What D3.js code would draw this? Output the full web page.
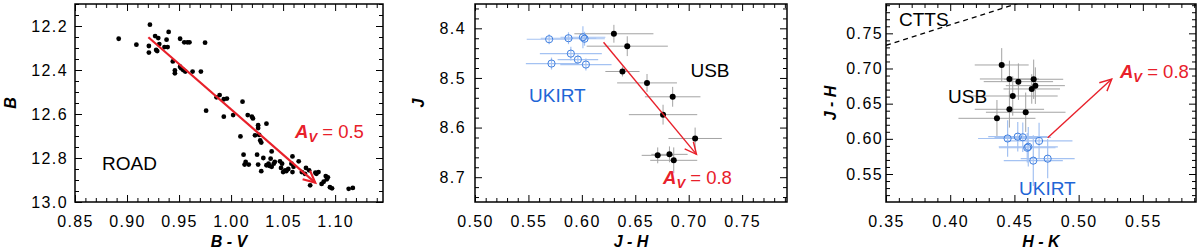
<!DOCTYPE html>
<html><head><meta charset="utf-8">
<script src="https://cdn.jsdelivr.net/npm/d3@7"></script>
<style>
body{margin:0;background:#fff}
svg{display:block}
text{font-family:"Liberation Sans",Arial,Helvetica,sans-serif}
</style>
</head><body>
<svg id="c" width="1200" height="250"></svg>
<script>
// ---------- Panel 1 : ROAD photometry (B vs B-V) ----------
const roadBV = [0.892,0.909,0.922,0.921,0.921,0.927,0.930,0.931,0.928,0.929,0.936,0.939,0.938,0.940,0.951,0.955,0.958,0.960,0.975,0.944,0.951,0.952,0.954,0.956,0.946,0.946,0.963,0.971,0.976,0.989,0.986,0.993,0.996,0.993,
1.002,1.011,1.016,1.020,1.021,1.026,1.026,1.034,1.009,1.023,1.028,1.029,1.039,1.012,1.014,1.017,1.013,1.025,1.026,1.029,1.031,1.034,1.036,1.037,1.039,1.041,1.042,1.038,1.047,1.049,1.048,1.050,1.052,1.053,1.055,1.059,1.058,1.060,1.059,1.065,1.068,1.071,1.072,1.075,1.076,1.081,1.082,1.084,1.087,1.089,1.091,1.093,1.092,1.095,1.097,1.113,1.117,1.027];
const roadB = [12.258,12.285,12.194,12.291,12.321,12.246,12.255,12.282,12.309,12.314,12.296,12.296,12.262,12.227,12.258,12.274,12.274,12.274,12.276,12.361,12.385,12.392,12.400,12.407,12.402,12.415,12.407,12.407,12.585,12.514,12.524,12.533,12.530,12.612,
12.605,12.544,12.605,12.612,12.620,12.651,12.664,12.644,12.702,12.697,12.720,12.730,12.770,12.785,12.818,12.830,12.830,12.785,12.830,12.860,12.800,12.833,12.826,12.836,12.840,12.826,12.818,12.803,12.815,12.826,12.845,12.864,12.856,12.860,12.850,12.793,12.826,12.840,12.864,12.815,12.864,12.872,12.845,12.856,12.924,12.867,12.872,12.864,12.918,12.908,12.882,12.888,12.897,12.933,12.938,12.940,12.936,12.695];
const p1XTicks = [0.85,0.90,0.95,1.00,1.05,1.10];
const p1YTicks = [12.2,12.4,12.6,12.8,13.0];
const p1Arrow = [[0.9205,12.251],[1.0808,12.912]];

// ---------- Panel 2 : J vs J-H ----------
const usbJH = [0.630,0.6425,0.638,0.661,0.685,0.676,0.706,0.671,0.682,0.686];
const usbJ = [8.411,8.436,8.487,8.510,8.538,8.574,8.622,8.656,8.654,8.666];
const usbJHerr = [0.037,0.038,0.016,0.028,0.026,0.032,0.025,0.015,0.017,0.022];
const usbJerr = [0.018,0.020,0.010,0.018,0.020,0.020,0.022,0.016,0.016,0.026];
const ukJH = [0.5694,0.5875,0.6010,0.6025,0.5897,0.5963,0.5716,0.6038];
const ukJ = [8.422,8.420,8.418,8.421,8.451,8.463,8.471,8.473];
const ukJHerr = [0.021,0.026,0.021,0.019,0.029,0.019,0.024,0.024];
const ukJerr = [0.010,0.012,0.022,0.014,0.014,0.010,0.012,0.012];
const p2XTicks = [0.50,0.55,0.60,0.65,0.70,0.75];
const p2YTicks = [8.4,8.5,8.6,8.7];
const p2Arrow = [[0.6203,8.428],[0.7073,8.654]];

// ---------- Panel 3 : J-H vs H-K ----------
const usbHK = [0.4401,0.4461,0.4531,0.4650,0.4663,0.4635,0.4487,0.4461,0.4588,0.4364];
const usbJH3 = [0.7050,0.6851,0.6813,0.6847,0.6756,0.6709,0.6609,0.6420,0.6378,0.6292];
const usbHKerr = [0.021,0.023,0.027,0.023,0.023,0.022,0.035,0.027,0.031,0.030];
const usbJH3err = [0.024,0.026,0.026,0.028,0.026,0.021,0.028,0.026,0.028,0.026];
const ukHK = [0.4447,0.4526,0.4565,0.4692,0.4608,0.4600,0.4647,0.4759];
const ukJH3 = [0.6005,0.6031,0.6022,0.5970,0.5887,0.5873,0.5690,0.5718];
const ukHKerr = [0.023,0.023,0.022,0.026,0.023,0.022,0.023,0.021];
const ukJH3err = [0.026,0.021,0.021,0.026,0.028,0.021,0.036,0.028];
const p3XTicks = [0.35,0.40,0.45,0.50,0.55];
const p3YTicks = [0.55,0.60,0.65,0.70,0.75];
const p3Arrow = [[0.4759,0.6016],[0.5258,0.6850]];
const cttsLine = [[0.35,0.733],[0.47,0.8026]];

// ---------- style ----------
const RED = "#e8202a", BLUE = "#1f66d6", BLUE_PT = "#3f7fe0", BLUE_ERR = "#a4c2f2", GRAY_ERR = "#a3a3a3";
const svg = d3.select("#c");

function range(a, b, step) { const out = []; for (let v = a; v <= b + 1e-9; v += step) out.push(+v.toFixed(4)); return out; }

function makePanel(o) {
  const x = d3.scaleLinear().domain(o.xDomain).range([o.left, o.right]);
  const y = d3.scaleLinear().domain(o.yDomain).range([o.bottom, o.top]);
  const g = svg.append("g");
  const clipId = "clip" + o.id;
  g.append("clipPath").attr("id", clipId).append("rect")
    .attr("x", o.left).attr("y", o.top).attr("width", o.right - o.left).attr("height", o.bottom - o.top);
  const xMinor = range(o.xDomain[0], o.xDomain[1], o.xMinor).filter(v => !o.xTicks.some(t => Math.abs(t - v) < 1e-6));
  const yLo = Math.min(...o.yDomain), yHi = Math.max(...o.yDomain);
  const yMinor = range(Math.ceil(yLo / o.yMinor - 1e-6) * o.yMinor, yHi, o.yMinor).filter(v => !o.yTicks.some(t => Math.abs(t - v) < 1e-6));
  const clean = s => s.select(".domain").remove();
  // bottom
  g.append("g").attr("transform", `translate(0,${o.bottom})`)
    .call(d3.axisBottom(x).tickValues(o.xTicks).tickSize(-7).tickPadding(14).tickFormat(d3.format(o.xFmt))).call(clean);
  g.append("g").attr("transform", `translate(0,${o.bottom})`)
    .call(d3.axisBottom(x).tickValues(xMinor).tickSize(-4).tickFormat("")).call(clean);
  // top
  g.append("g").attr("transform", `translate(0,${o.top})`)
    .call(d3.axisTop(x).tickValues(o.xTicks).tickSize(-7).tickFormat("")).call(clean);
  g.append("g").attr("transform", `translate(0,${o.top})`)
    .call(d3.axisTop(x).tickValues(xMinor).tickSize(-4).tickFormat("")).call(clean);
  // left
  g.append("g").attr("transform", `translate(${o.left},0)`)
    .call(d3.axisLeft(y).tickValues(o.yTicks).tickSize(-7).tickPadding(o.yPad).tickFormat(d3.format(o.yFmt))).call(clean);
  g.append("g").attr("transform", `translate(${o.left},0)`)
    .call(d3.axisLeft(y).tickValues(yMinor).tickSize(-4).tickFormat("")).call(clean);
  // right
  g.append("g").attr("transform", `translate(${o.right},0)`)
    .call(d3.axisRight(y).tickValues(o.yTicks).tickSize(-7).tickFormat("")).call(clean);
  g.append("g").attr("transform", `translate(${o.right},0)`)
    .call(d3.axisRight(y).tickValues(yMinor).tickSize(-4).tickFormat("")).call(clean);
  g.selectAll(".tick line").attr("stroke", "#000").attr("stroke-width", 1);
  g.selectAll(".tick text").attr("fill", "#000").style("font-size", "16px").style("letter-spacing", "1.4px")
    .style("font-family", '"Liberation Sans",Arial,sans-serif');
  // frame
  g.append("rect").attr("x", o.left).attr("y", o.top).attr("width", o.right - o.left).attr("height", o.bottom - o.top)
    .attr("fill", "none").attr("stroke", "#000").attr("stroke-width", 1.5);
  // axis titles
  g.append("text").attr("x", (o.left + o.right) / 2).attr("y", 247).attr("text-anchor", "middle")
    .style("font-size", "16px").style("font-weight", "bold").style("font-style", "italic").text(o.xTitle);
  g.append("text").attr("transform", `translate(${o.yTitleX},${(o.top + o.bottom) / 2}) rotate(-90)`).attr("text-anchor", "middle")
    .style("font-size", "16px").style("font-weight", "bold").style("font-style", "italic").text(o.yTitle);
  return { x, y, g, clip: `url(#${clipId})` };
}

function label(g, px, py, txt, color) {
  g.append("text").attr("x", px).attr("y", py).attr("fill", color).style("font-size", "19px").text(txt);
}
function avLabel(g, px, py, val) {
  const t = g.append("text").attr("x", px).attr("y", py).attr("fill", RED).style("font-size", "18.5px");
  t.append("tspan").style("font-weight", "bold").style("font-style", "italic").text("A");
  t.append("tspan").attr("dy", 4).style("font-size", "13px").style("font-weight", "bold").style("font-style", "italic").text("V");
  t.append("tspan").attr("dy", -4).text("\u00a0= " + val);
}
function arrow(g, P, x, y, w, head) {
  const x1 = x(P[0][0]), y1 = y(P[0][1]), x2 = x(P[1][0]), y2 = y(P[1][1]);
  g.append("line").attr("x1", x1).attr("y1", y1).attr("x2", x2).attr("y2", y2).attr("stroke", RED).attr("stroke-width", w);
  const a = Math.atan2(y2 - y1, x2 - x1), s = 0.45;
  const path = d3.path();
  path.moveTo(x2 - head * Math.cos(a - s), y2 - head * Math.sin(a - s));
  path.lineTo(x2, y2);
  path.lineTo(x2 - head * Math.cos(a + s), y2 - head * Math.sin(a + s));
  g.append("path").attr("d", path.toString()).attr("fill", "none").attr("stroke", RED).attr("stroke-width", w).attr("stroke-linejoin", "miter");
}
function errBars(g, xs, ys, xe, ye, x, y, color, w) {
  const idx = d3.range(xs.length);
  g.append("g").selectAll("line").data(idx).join("line")
    .attr("x1", i => x(xs[i] - xe[i])).attr("x2", i => x(xs[i] + xe[i])).attr("y1", i => y(ys[i])).attr("y2", i => y(ys[i]))
    .attr("stroke", color).attr("stroke-width", w);
  g.append("g").selectAll("line").data(idx).join("line")
    .attr("x1", i => x(xs[i])).attr("x2", i => x(xs[i])).attr("y1", i => y(ys[i] - ye[i])).attr("y2", i => y(ys[i] + ye[i]))
    .attr("stroke", color).attr("stroke-width", w);
}
function dots(g, xs, ys, x, y, r) {
  g.append("g").selectAll("circle").data(d3.range(xs.length)).join("circle")
    .attr("cx", i => x(xs[i])).attr("cy", i => y(ys[i])).attr("r", r).attr("fill", "#000");
}
function rings(g, xs, ys, x, y, r) {
  g.append("g").selectAll("circle").data(d3.range(xs.length)).join("circle")
    .attr("cx", i => x(xs[i])).attr("cy", i => y(ys[i])).attr("r", r).attr("fill", "none").attr("stroke", BLUE_PT).attr("stroke-width", 1);
}

// ---- Panel 1 ----
const P1 = makePanel({ id: 1, left: 75, right: 383, top: 4, bottom: 202, xDomain: [0.85, 1.146], yDomain: [13.0, 12.1],
  xTicks: p1XTicks, yTicks: p1YTicks, xMinor: 0.01, yMinor: 0.05, xFmt: ".2f", yFmt: ".1f", yPad: 7,
  xTitle: "B - V", yTitle: "B", yTitleX: 16 });
dots(P1.g, roadBV, roadB, P1.x, P1.y, 2.4);
arrow(P1.g, p1Arrow, P1.x, P1.y, 2.2, 13);
label(P1.g, P1.x(0.876), P1.y(12.855), "ROAD", "#000");
avLabel(P1.g, P1.x(1.0615), P1.y(12.709), "0.5");

// ---- Panel 2 ----
const P2 = makePanel({ id: 2, left: 475, right: 787, top: 4, bottom: 202, xDomain: [0.50, 0.792], yDomain: [8.75, 8.351],
  xTicks: p2XTicks, yTicks: p2YTicks, xMinor: 0.01, yMinor: 0.02, xFmt: ".2f", yFmt: ".1f", yPad: 9,
  xTitle: "J - H", yTitle: "J", yTitleX: 424 });
errBars(P2.g, usbJH, usbJ, usbJHerr, usbJerr, P2.x, P2.y, GRAY_ERR, 1);
errBars(P2.g, ukJH, ukJ, ukJHerr, ukJerr, P2.x, P2.y, BLUE_ERR, 1.2);
rings(P2.g, ukJH, ukJ, P2.x, P2.y, 3.6);
dots(P2.g, usbJH, usbJ, P2.x, P2.y, 3);
arrow(P2.g, p2Arrow, P2.x, P2.y, 1.4, 13);
label(P2.g, P2.x(0.5506), P2.y(8.5486), "UKIRT", BLUE);
label(P2.g, P2.x(0.7016), P2.y(8.498), "USB", "#000");
avLabel(P2.g, P2.x(0.676), P2.y(8.713), "0.8");

// ---- Panel 3 ----
const P3 = makePanel({ id: 3, left: 886, right: 1196, top: 4, bottom: 202, xDomain: [0.35, 0.5914], yDomain: [0.5102, 0.7917],
  xTicks: p3XTicks, yTicks: p3YTicks, xMinor: 0.01, yMinor: 0.01, xFmt: ".2f", yFmt: ".2f", yPad: 3,
  xTitle: "H - K", yTitle: "J - H", yTitleX: 836 });
P3.g.append("path").attr("clip-path", P3.clip)
  .attr("d", d3.line().x(d => P3.x(d[0])).y(d => P3.y(d[1]))(cttsLine))
  .attr("fill", "none").attr("stroke", "#000").attr("stroke-width", 1.3).attr("stroke-dasharray", "5,4");
errBars(P3.g, usbHK, usbJH3, usbHKerr, usbJH3err, P3.x, P3.y, GRAY_ERR, 1);
errBars(P3.g, ukHK, ukJH3, ukHKerr, ukJH3err, P3.x, P3.y, BLUE_ERR, 1.2);
rings(P3.g, ukHK, ukJH3, P3.x, P3.y, 3.6);
dots(P3.g, usbHK, usbJH3, P3.x, P3.y, 3);
arrow(P3.g, p3Arrow, P3.x, P3.y, 1.4, 13);
label(P3.g, P3.x(0.3601), P3.y(0.7604), "CTTS", "#000");
label(P3.g, P3.x(0.3983), P3.y(0.6506), "USB", "#000");
label(P3.g, P3.x(0.4536), P3.y(0.5202), "UKIRT", BLUE);
avLabel(P3.g, P3.x(0.5322), P3.y(0.6869), "0.8");
</script>
</body></html>
